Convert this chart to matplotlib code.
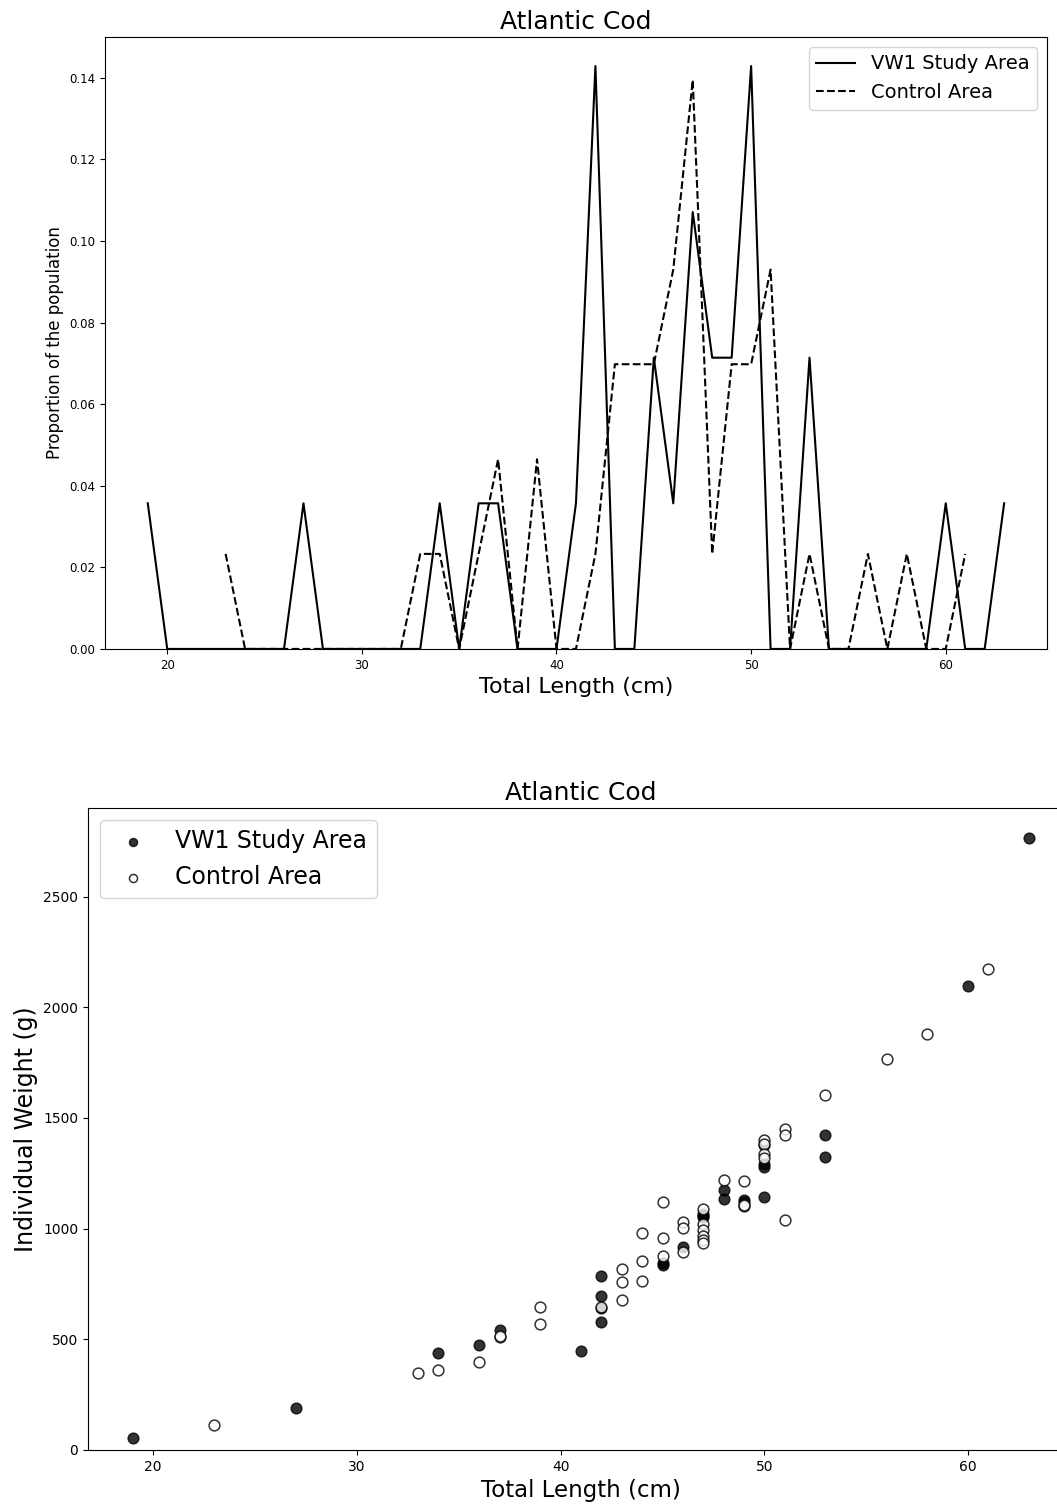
import numpy as np
import matplotlib
matplotlib.use("Agg")
import matplotlib.pyplot as plt

# length-frequency (proportion of fish per 1 cm length class)
vw1_len = [19, 20, 21, 22, 23, 24, 25, 26, 27, 28, 29, 30, 31, 32, 33, 34, 35,
           36, 37, 38, 39, 40, 41, 42, 43, 44, 45, 46, 47, 48, 49, 50, 51, 52,
           53, 54, 55, 56, 57, 58, 59, 60, 61, 62, 63]
vw1_prop = [0.0357, 0, 0, 0, 0, 0, 0, 0, 0.0357, 0, 0, 0, 0, 0, 0, 0.0357, 0,
            0.0357, 0.0357, 0, 0, 0, 0.0357, 0.1429, 0, 0, 0.0714, 0.0357,
            0.1071, 0.0714, 0.0714, 0.1429, 0, 0, 0.0714, 0, 0, 0, 0, 0, 0,
            0.0357, 0, 0, 0.0357]

ctl_len = [23, 24, 25, 26, 27, 28, 29, 30, 31, 32, 33, 34, 35, 36, 37, 38, 39,
           40, 41, 42, 43, 44, 45, 46, 47, 48, 49, 50, 51, 52, 53, 54, 55, 56,
           57, 58, 59, 60, 61]
ctl_prop = [0.0233, 0, 0, 0, 0, 0, 0, 0, 0, 0, 0.0233, 0.0233, 0, 0.0233,
            0.0465, 0, 0.0465, 0, 0, 0.0233, 0.0698, 0.0698, 0.0698, 0.0930,
            0.1395, 0.0233, 0.0698, 0.0698, 0.0930, 0, 0.0233, 0, 0, 0.0233,
            0, 0.0233, 0, 0, 0.0233]

# length-weight of individual fish
vw1_tl = [19, 27, 34, 36, 37, 41, 42, 42, 42, 42, 45, 45, 46, 47, 47, 47, 48,
          48, 49, 49, 50, 50, 50, 50, 53, 53, 60, 63]
vw1_wt = [56, 189, 436, 475, 543, 449, 787, 697, 640, 577, 835, 843, 917, 1065,
          1052, 1058, 1176, 1136, 1131, 1122, 1378, 1290, 1277, 1143, 1425,
          1324, 2095, 2765]

ctl_tl = [23, 33, 34, 36, 37, 37, 39, 39, 42, 43, 43, 43, 44, 44, 44, 45, 45,
          45, 46, 46, 46, 47, 47, 47, 47, 47, 47, 48, 49, 49, 49, 50, 50, 50,
          50, 51, 51, 51, 53, 56, 58, 61]
ctl_wt = [115, 350, 362, 397, 510, 515, 648, 569, 645, 816, 757, 677, 982, 856,
          764, 1122, 957, 877, 1030, 1003, 895, 1090, 1020, 995, 968, 948, 935,
          1218, 1217, 1100, 1108, 1400, 1384, 1335, 1318, 1448, 1425, 1037,
          1603, 1765, 1878, 2172]

fig = plt.figure(figsize=(10.57, 15.06), dpi=100)

# top: length frequency
ax1 = fig.add_axes([0.0993, 0.5691, 0.8912, 0.4064])
ax1.plot(vw1_len, vw1_prop, color="black", linewidth=1.5, label="VW1 Study Area")
ax1.plot(ctl_len, ctl_prop, color="black", linewidth=1.5, linestyle="--",
         label="Control Area")
ax1.set_ylim(bottom=0)
ax1.set_title("Atlantic Cod", fontsize=18)
ax1.set_xlabel("Total Length (cm)", fontsize=16)
ax1.set_ylabel("Proportion of the population", fontsize=12)
ax1.tick_params(labelsize=8.5)
ax1.legend(loc="upper right", fontsize=14)

# bottom: length-weight
ax2 = fig.add_axes([0.0833, 0.0372, 0.9328, 0.4263])
ax2.scatter(vw1_tl, vw1_wt, s=60, color="black", alpha=0.8,
            label="VW1 Study Area")
ax2.scatter(ctl_tl, ctl_wt, s=60, facecolors="white", edgecolors="black",
            linewidths=1.1, alpha=0.8, label="Control Area")
ax2.set_ylim(bottom=0)
ax2.set_title("Atlantic Cod", fontsize=18)
ax2.set_xlabel("Total Length (cm)", fontsize=16.5)
ax2.set_ylabel("Individual Weight (g)", fontsize=17)
ax2.tick_params(labelsize=10)
ax2.legend(loc="upper left", fontsize=17, markerscale=0.75)

fig.savefig("out.png", dpi=100)
